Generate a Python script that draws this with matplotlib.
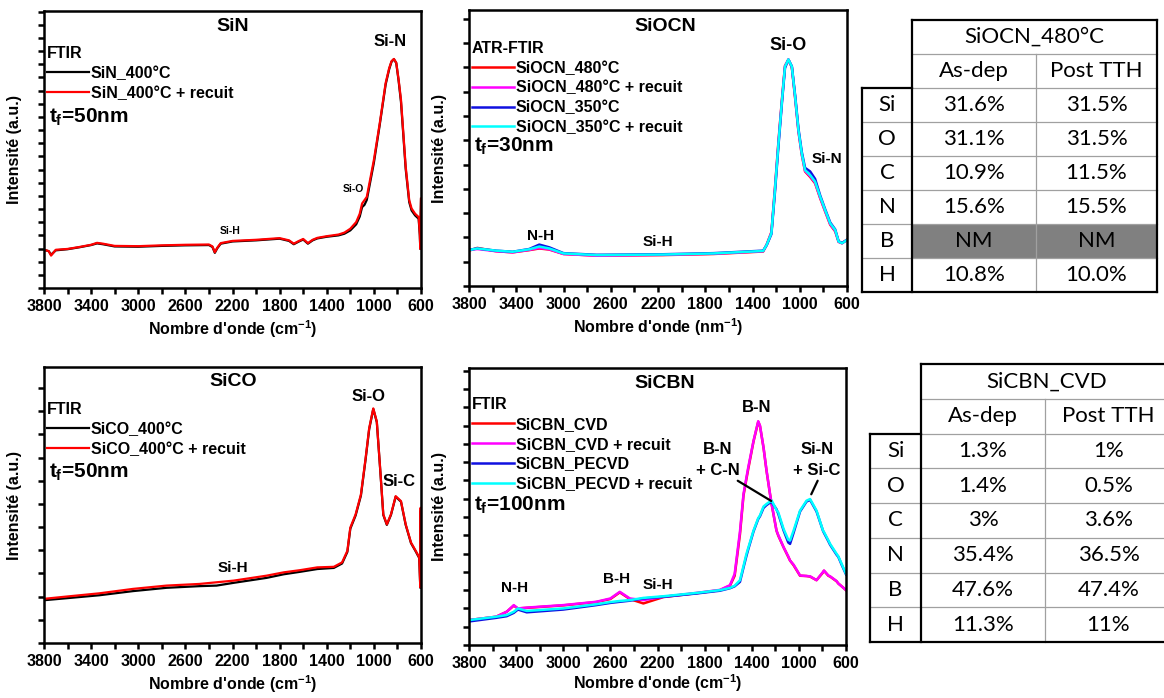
import matplotlib
matplotlib.use('Agg')
import matplotlib.pyplot as plt
from matplotlib.ticker import MultipleLocator

plt.rcParams['font.family'] = ['Liberation Sans', 'DejaVu Sans']
plt.rcParams['font.weight'] = 'bold'
plt.rcParams['axes.labelweight'] = 'bold'
plt.rcParams['mathtext.fontset'] = 'custom'
plt.rcParams['mathtext.rm'] = 'Liberation Sans:bold'
plt.rcParams['mathtext.it'] = 'Liberation Sans:bold'
plt.rcParams['mathtext.bf'] = 'Liberation Sans:bold'

x_major = [3800, 3400, 3000, 2600, 2200, 1800, 1400, 1000, 600]
x_minor = [3600, 3200, 2800, 2400, 2000, 1600, 1200, 800]

# ---- SiN (FTIR) ----
sin_wn = [3800, 3760, 3740, 3700, 3600, 3500, 3400, 3350, 3300, 3200, 3000, 2800, 2600,
          2400, 2370, 2350, 2330, 2300, 2200, 2000, 1800, 1720, 1680, 1640, 1600, 1560,
          1520, 1480, 1400, 1300, 1250, 1200, 1150, 1120, 1100, 1080, 1060, 1000, 950,
          900, 870, 850, 830, 810, 790, 770, 750, 730, 700, 680, 650, 620, 610, 606, 603, 600]
sin_400 = [.138, .133, .120, .136, .140, .147, .155, .161, .158, .150, .149, .152, .154,
           .155, .148, .127, .143, .160, .168, .172, .178, .170, .158, .167, .175, .160,
           .172, .179, .185, .190, .196, .208, .230, .258, .292, .300, .318, .452, .590,
           .735, .790, .817, .826, .812, .748, .672, .552, .430, .310, .280, .262, .250,
           .190, .141, .250, .320]
sin_400_recuit = [.138, .133, .117, .138, .141, .148, .156, .163, .160, .152, .151, .154, .156,
                  .157, .150, .129, .145, .162, .170, .174, .180, .172, .160, .169, .177, .162,
                  .174, .181, .187, .193, .200, .214, .238, .268, .305, .317, .329, .462, .595,
                  .740, .794, .819, .827, .813, .752, .680, .559, .438, .317, .287, .268, .256,
                  .196, .141, .256, .323]

# ---- SiOCN (ATR-FTIR) ----
siocn_wn = [3800, 3730, 3570, 3430, 3290, 3205, 3120, 3000, 2720, 2160, 1730, 1310, 1280,
            1240, 1210, 1180, 1150, 1125, 1096, 1067, 1039, 1011, 983, 955, 912, 870, 827,
            785, 742, 700, 671, 642, 600]
siocn_480 = [.128, .138, .126, .122, .130, .136, .132, .116, .110, .112, .116, .125, .150,
             .195, .355, .525, .680, .798, .820, .792, .680, .560, .476, .415, .395, .372,
             .318, .270, .222, .198, .160, .155, .168]
siocn_480_recuit = [.130, .134, .126, .122, .131, .138, .133, .116, .110, .113, .117, .126, .149,
                    .193, .350, .520, .676, .796, .821, .794, .684, .562, .478, .417, .398, .375,
                    .320, .272, .224, .200, .160, .155, .167]
siocn_350 = [.131, .136, .128, .124, .134, .150, .140, .119, .113, .115, .119, .128, .148,
             .188, .340, .510, .668, .790, .820, .796, .690, .570, .486, .428, .415, .388,
             .328, .278, .230, .205, .162, .156, .167]
siocn_350_recuit = [.130, .136, .128, .124, .133, .143, .136, .118, .112, .114, .118, .127, .149,
                    .191, .348, .517, .674, .795, .821, .795, .686, .565, .481, .420, .402, .378,
                    .324, .275, .227, .203, .161, .155, .167]

# ---- SiCO (FTIR) ----
sico_wn = [3800, 3615, 3330, 3045, 2760, 2480, 2335, 2190, 1910, 1765, 1625, 1480, 1340,
           1270, 1225, 1200, 1155, 1110, 1070, 1040, 1005, 975, 945, 920, 890, 855, 815,
           770, 730, 685, 645, 615, 606, 603, 600]
sico_400 = [.155, .162, .173, .188, .200, .206, .208, .218, .236, .249, .258, .268, .272,
            .288, .330, .414, .462, .534, .666, .774, .848, .800, .620, .464, .428, .464, .530,
            .512, .428, .362, .332, .308, .200, .480, .320]
sico_400_recuit = [.160, .168, .180, .196, .208, .214, .220, .226, .244, .256, .264, .274, .276,
                   .292, .334, .418, .466, .538, .670, .778, .850, .802, .622, .466, .430, .466,
                   .532, .514, .430, .364, .334, .310, .202, .490, .322]

# ---- SiCBN (FTIR) ----
sicbn_wn = [3800, 3570, 3480, 3420, 3385, 3310, 3000, 2720, 2600, 2520, 2435, 2320, 2150,
            1870, 1670, 1585, 1545, 1500, 1470, 1445, 1430, 1385, 1345, 1330, 1300, 1275,
            1245, 1230, 1190, 1175, 1130, 1090, 1075, 1045, 990, 935, 905, 850, 795, 787,
            750, 735, 680, 665, 637, 600]
sicbn_cvd = [.090, .102, .120, .142, .132, .134, .143, .155, .166, .190, .166, .150, .173,
             .187, .198, .214, .250, .400, .540, .600, .635, .735, .806, .790, .712, .630,
             .545, .505, .413, .395, .353, .318, .305, .288, .250, .249, .247, .234, .262, .268,
             .250, .247, .230, .222, .212, .198]
sicbn_cvd_recuit = [.090, .102, .120, .144, .132, .135, .144, .156, .168, .192, .168, .162, .174,
                    .188, .199, .216, .257, .410, .545, .605, .641, .737, .808, .792, .713, .632,
                    .545, .507, .413, .397, .353, .320, .305, .290, .251, .249, .248, .234, .264,
                    .269, .251, .248, .231, .222, .212, .198]
sicbn_pecvd = [.085, .098, .104, .116, .128, .118, .128, .144, .152, .156, .160, .168, .174,
               .186, .196, .205, .212, .228, .280, .322, .345, .410, .455, .465, .495, .505,
               .514, .515, .490, .474, .414, .370, .365, .405, .482, .518, .524, .482, .412,
               .405, .375, .362, .326, .318, .290, .255]
sicbn_pecvd_recuit = [.090, .102, .108, .120, .132, .123, .132, .147, .155, .159, .162, .170, .176,
                      .188, .198, .206, .214, .234, .285, .329, .350, .413, .458, .468, .500,
                      .509, .518, .521, .487, .479, .419, .380, .377, .413, .485, .521, .527,
                      .485, .413, .408, .378, .365, .329, .320, .293, .257]

# ---- tables ----
elements = ['Si', 'O', 'C', 'N', 'B', 'H']
siocn_asdep = ['31.6%', '31.1%', '10.9%', '15.6%', 'NM', '10.8%']
siocn_post = ['31.5%', '31.5%', '11.5%', '15.5%', 'NM', '10.0%']
sicbn_asdep = ['1.3%', '1.4%', '3%', '35.4%', '47.6%', '11.3%']
sicbn_post = ['1%', '0.5%', '3.6%', '36.5%', '47.4%', '11%']

fig = plt.figure(figsize=(11.64, 6.98), dpi=100)

ax1 = fig.add_axes([44 / 1164, 1 - 288 / 698, 377 / 1164, 277 / 698])
ax2 = fig.add_axes([469 / 1164, 1 - 286 / 698, 378 / 1164, 276 / 698])
ax3 = fig.add_axes([44 / 1164, 1 - 643 / 698, 377 / 1164, 276 / 698])
ax4 = fig.add_axes([469 / 1164, 1 - 645 / 698, 377 / 1164, 277 / 698])


def style_axis(ax, ystep, xlabel):
    ax.set_xlim(3800, 600)
    ax.set_ylim(0, 1)
    ax.set_xticks(x_major)
    ax.set_xticklabels([str(v) for v in x_major], fontweight='bold', fontsize=11.5)
    ax.set_xticks(x_minor, minor=True)
    ax.yaxis.set_major_locator(MultipleLocator(ystep))
    ax.yaxis.set_minor_locator(MultipleLocator(ystep / 2))
    ax.tick_params(which='both', direction='out', width=1.8, length=4,
                   labelleft=False, pad=4)
    for s in ax.spines.values():
        s.set_linewidth(1.8)
    ax.set_xlabel(xlabel, fontsize=11.5, fontweight='bold', labelpad=3)
    ax.set_ylabel('Intensité (a.u.)', fontsize=11.5, fontweight='bold', labelpad=12)


def add_legend(ax, title, top):
    ax.legend(loc='upper left', bbox_to_anchor=(0.008, top), title=title,
              alignment='left', frameon=False,
              prop={'weight': 'bold', 'size': 11.5},
              title_fontproperties={'weight': 'bold', 'size': 11.5},
              handlelength=2.6, handletextpad=0.15, labelspacing=0.3,
              borderpad=0, borderaxespad=0)


def label(ax, x, y, s, size=11):
    ax.text(x, y, s, transform=ax.transAxes, ha='center', va='center',
            fontsize=size, fontweight='bold')


# SiN
ax1.plot(sin_wn, sin_400, color='black', lw=1.6, label='SiN_400°C')
ax1.plot(sin_wn, sin_400_recuit, color='red', lw=1.6, label='SiN_400°C + recuit')
style_axis(ax1, 0.095, "Nombre d'onde (cm$^{-1}$)")
add_legend(ax1, 'FTIR', 0.873)
label(ax1, 0.5, 0.945, 'SiN', 14)
ax1.text(0.013, 0.615, '$t_f$=50nm', transform=ax1.transAxes, ha='left', va='center', fontsize=15)
label(ax1, 0.917, 0.89, 'Si-N', 12)
label(ax1, 0.82, 0.357, 'Si-O', 7.5)
label(ax1, 0.494, 0.204, 'Si-H', 7.5)

# SiOCN
ax2.plot(siocn_wn, siocn_480, color='red', lw=1.8, label='SiOCN_480°C')
ax2.plot(siocn_wn, siocn_480_recuit, color='magenta', lw=1.8, label='SiOCN_480°C + recuit')
ax2.plot(siocn_wn, siocn_350, color='#1010e0', lw=1.8, label='SiOCN_350°C')
ax2.plot(siocn_wn, siocn_350_recuit, color='cyan', lw=1.8, label='SiOCN_350°C + recuit')
style_axis(ax2, 0.176, "Nombre d'onde (nm$^{-1}$)")
add_legend(ax2, 'ATR-FTIR', 0.888)
label(ax2, 0.518, 0.942, 'SiOCN', 14)
ax2.text(0.013, 0.505, '$t_f$=30nm', transform=ax2.transAxes, ha='left', va='center', fontsize=15)
label(ax2, 0.845, 0.873, 'Si-O', 13)
label(ax2, 0.947, 0.461, 'Si-N', 11)
label(ax2, 0.19, 0.182, 'N-H', 11)
label(ax2, 0.5, 0.16, 'Si-H', 11)

# SiCO
ax3.plot(sico_wn, sico_400, color='black', lw=1.6, label='SiCO_400°C')
ax3.plot(sico_wn, sico_400_recuit, color='red', lw=1.6, label='SiCO_400°C + recuit')
style_axis(ax3, 0.168, "Nombre d'onde (cm$^{-1}$)")
add_legend(ax3, 'FTIR', 0.873)
label(ax3, 0.502, 0.946, 'SiCO', 14)
ax3.text(0.013, 0.618, '$t_f$=50nm', transform=ax3.transAxes, ha='left', va='center', fontsize=15)
label(ax3, 0.862, 0.892, 'Si-O', 12)
label(ax3, 0.942, 0.586, 'Si-C', 12)
label(ax3, 0.502, 0.27, 'Si-H', 11)

# SiCBN
ax4.plot(sicbn_wn, sicbn_cvd, color='red', lw=1.8, label='SiCBN_CVD')
ax4.plot(sicbn_wn, sicbn_cvd_recuit, color='magenta', lw=1.8, label='SiCBN_CVD + recuit')
ax4.plot(sicbn_wn, sicbn_pecvd, color='#1010e0', lw=1.8, label='SiCBN_PECVD')
ax4.plot(sicbn_wn, sicbn_pecvd_recuit, color='cyan', lw=1.8, label='SiCBN_PECVD + recuit')
style_axis(ax4, 0.132, "Nombre d'onde (cm$^{-1}$)")
ax4.xaxis.labelpad = 1
add_legend(ax4, 'FTIR', 0.895)
label(ax4, 0.519, 0.943, 'SiCBN', 14)
ax4.text(0.013, 0.503, '$t_f$=100nm', transform=ax4.transAxes, ha='left', va='center', fontsize=15)
label(ax4, 0.763, 0.856, 'B-N', 12)
label(ax4, 0.121, 0.206, 'N-H', 11)
label(ax4, 0.391, 0.238, 'B-H', 11)
label(ax4, 0.502, 0.218, 'Si-H', 11)
ax4.annotate('B-N\n+ C-N', xy=(1235, 0.52), xytext=(0.66, 0.668), textcoords='axes fraction',
             ha='center', va='center', fontsize=12, fontweight='bold', linespacing=1.5,
             arrowprops=dict(arrowstyle='-', color='black', lw=1.6, shrinkA=0, shrinkB=0,
                             relpos=(0.85, 0.0)))
ax4.annotate('Si-N\n+ Si-C', xy=(905, 0.535), xytext=(0.922, 0.668), textcoords='axes fraction',
             ha='center', va='center', fontsize=12, fontweight='bold', linespacing=1.5,
             arrowprops=dict(arrowstyle='-', color='black', lw=1.6, shrinkA=0, shrinkB=2,
                             relpos=(0.55, 0.0)))


def draw_table(ax, title, asdep, post, c1, c2):
    n = len(elements) + 2
    ax.set_xlim(0, 1)
    ax.set_ylim(n, 0)
    ax.axis('off')
    thin = dict(color='#a0a0a0', lw=0.9, clip_on=False)
    thick = dict(color='black', lw=1.6, clip_on=False, solid_capstyle='projecting')
    kw = dict(ha='center', va='center', fontsize=16, fontweight='normal', family='Lato')
    for i, (el, a, p) in enumerate(zip(elements, asdep, post)):
        r = i + 2
        if a == 'NM':
            ax.fill_between([c1, 1], r, r + 1, color='#808080', lw=0)
        ax.text(c1 / 2, r + 0.5, el, **kw)
        ax.text((c1 + c2) / 2, r + 0.5, a, **kw)
        ax.text((c2 + 1) / 2, r + 0.5, p, **kw)
        if i > 0:
            ax.plot([0, 1], [r, r], **thin)
    ax.text((c1 + 1) / 2, 0.5, title, **kw)
    ax.text((c1 + c2) / 2, 1.5, 'As-dep', **kw)
    ax.text((c2 + 1) / 2, 1.5, 'Post TTH', **kw)
    ax.plot([c1, 1], [1, 1], **thin)
    ax.plot([c1, 1], [2, 2], **thin)
    ax.plot([c2, c2], [1, n], **thin)
    ax.plot([c1, 1], [0, 0], **thick)
    ax.plot([c1, c1], [0, n], **thick)
    ax.plot([1, 1], [0, n], **thick)
    ax.plot([0, c1], [2, 2], **thick)
    ax.plot([0, 0], [2, n], **thick)
    ax.plot([0, 1], [n, n], **thick)


tab1 = fig.add_axes([862 / 1164, 1 - 292 / 698, 295 / 1164, 272 / 698])
draw_table(tab1, 'SiOCN_480°C', siocn_asdep, siocn_post, 50 / 295, 174 / 295)
tab2 = fig.add_axes([870 / 1164, 1 - 642 / 698, 302 / 1164, 278 / 698])
draw_table(tab2, 'SiCBN_CVD', sicbn_asdep, sicbn_post, 51 / 302, 175 / 302)

fig.savefig('out.png', dpi=100)
